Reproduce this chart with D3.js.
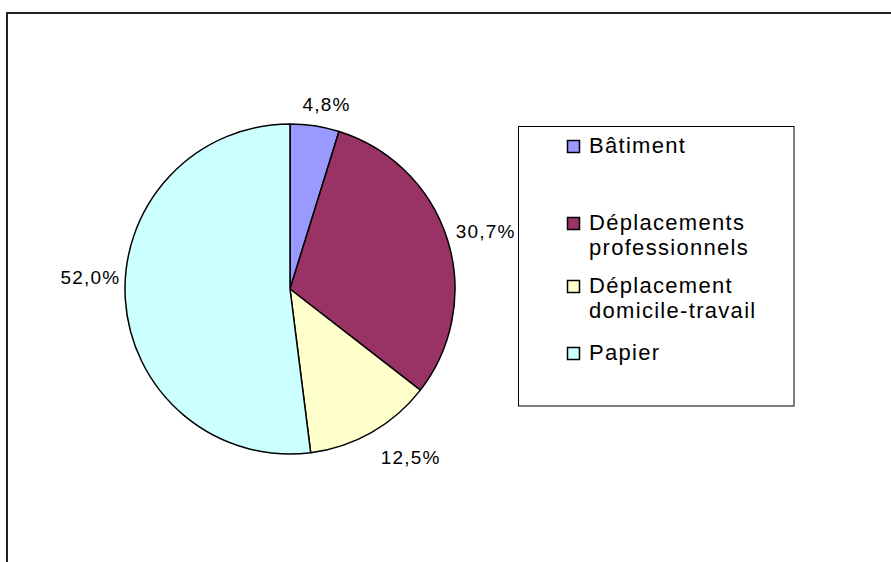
<!DOCTYPE html>
<html><head><meta charset="utf-8">
<script src="https://cdn.jsdelivr.net/npm/d3@7"></script>
<style>body{margin:0;background:#fff;}svg{display:block;font-family:"Liberation Sans",Arial,sans-serif;}</style>
</head><body>
<svg id="c" width="891" height="562"></svg>
<script>
const categories = ["Bâtiment", "Déplacements professionnels", "Déplacement domicile-travail", "Papier"];
const legendLines = [["Bâtiment"], ["Déplacements", "professionnels"], ["Déplacement", "domicile-travail"], ["Papier"]];
const values = [4.8, 30.7, 12.5, 52.0];
const labels = ["4,8%", "30,7%", "12,5%", "52,0%"];
const colors = ["#9999FF", "#993366", "#FFFFCC", "#CCFFFF"];

const svg = d3.select("#c");
// outer frame (extends past window right/bottom)
svg.append("path").attr("d", "M7,600 L7,13 L900,13").attr("fill","none").attr("stroke","#222").attr("stroke-width",2);

const cx = 290, cy = 289, r = 165;
const pie = d3.pie().sort(null).value(d => d)(values);
const arc = d3.arc().innerRadius(0).outerRadius(r);
const g = svg.append("g").attr("transform", `translate(${cx},${cy})`);
g.selectAll("path").data(pie).join("path")
  .attr("d", arc).attr("fill", (d,i) => colors[i])
  .attr("stroke", "#000").attr("stroke-width", 1.5).attr("stroke-linejoin","round");

// labels outside each slice
const nudge = [[6,-5],[2,-3],[20,10],[3,-23]];
const fs = 19;
g.selectAll("text.lbl").data(pie).join("text").attr("class","lbl")
  .attr("font-size", fs).attr("letter-spacing", 1.2).attr("fill","#000")
  .attr("text-anchor","middle").attr("dominant-baseline","central")
  .each(function(d,i){
    const a = (d.startAngle + d.endAngle)/2;
    const s = Math.sin(a), c = -Math.cos(a);
    const hw = 30, hh = 9, gap = 8;
    const x = (r+gap)*s + hw*s + nudge[i][0];
    const y = (r+gap)*c + hh*c + nudge[i][1];
    d3.select(this).attr("x", x).attr("y", y).text(labels[i]);
  });

// legend
const lx = 518.5, ly = 126.5, lw = 275.5, lh = 279.5;
svg.append("rect").attr("x", lx).attr("y", ly).attr("width", lw).attr("height", lh)
  .attr("fill","#fff").attr("stroke","#000").attr("stroke-width",1);
const entryY = [153, 230, 293, 360];
const lg = svg.append("g");
categories.forEach((cat,i) => {
  const by = entryY[i];
  lg.append("rect").attr("x", 567.5).attr("y", by-12.5).attr("width", 12).attr("height", 12)
    .attr("fill", colors[i]).attr("stroke","#000").attr("stroke-width",1.5);
  const t = lg.append("text").attr("x", 589).attr("y", by).attr("font-size", 22)
    .attr("letter-spacing", 1.3).attr("fill","#000");
  legendLines[i].forEach((ln,j) => {
    t.append("tspan").attr("x", 589).attr("y", by + j*25).text(ln);
  });
});
</script>
</body></html>
